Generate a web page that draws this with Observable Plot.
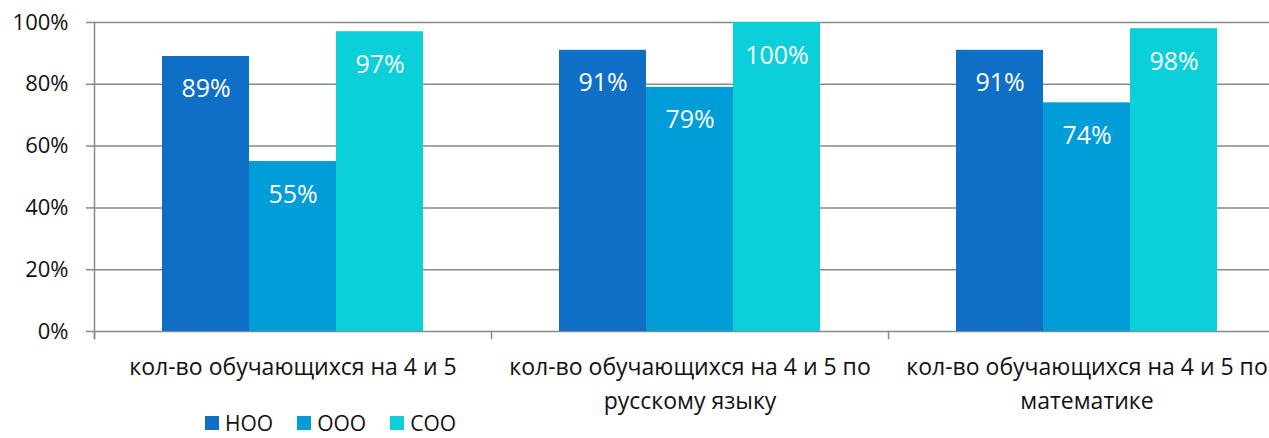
<!DOCTYPE html>
<html>
<head>
<meta charset="utf-8">
<script src="https://cdn.jsdelivr.net/npm/d3@7"></script>
<script src="https://cdn.jsdelivr.net/npm/@observablehq/plot@0.6"></script>
<style>
  html, body { margin: 0; padding: 0; overflow: hidden; background: #fff; width: 1269px; height: 438px; position: relative; }
  #chart svg.plot-main { max-width: none !important; display: block; }
  #legend { position: absolute; top: 410px; left: 205px; height: 26px; }
  #legend div { font-family: "Open Sans", sans-serif !important; font-size: 21px !important; color: #111 !important; line-height: 26px !important; min-height: 26px !important; margin: 0 !important; }
  #legend span { margin-right: 24px !important; }
  #legend span > svg { margin-right: 6px !important; }
</style>
</head>
<body>
<div id="chart"></div>
<div id="legend"></div>
<script>
// ---- data ----
const categories = [
  "кол-во обучающихся на 4 и 5",
  "кол-во обучающихся на 4 и 5 по\nрусскому языку",
  "кол-во обучающихся на 4 и 5 по\nматематике"
];
const series = ["НОО", "ООО", "СОО"];
const nooValues = [89, 91, 91];
const oooValues = [55, 79, 74];
const sooValues = [97, 100, 98];
const seriesColors = ["#0F6FC6", "#009DD9", "#0BD0D9"];
const yTicks = [0, 20, 40, 60, 80, 100];

const valuesBySeries = [nooValues, oooValues, sooValues];
const data = [];
categories.forEach((c, i) => {
  series.forEach((s, j) => data.push({cat: c, s, v: valuesBySeries[j][i]}));
});

const W = 1286, H = 410, MT = 22, MB = 79, ML = 93;
const innerH = H - MT - MB;
const gridColor = "#898989";

const chart = Plot.plot({
  width: W,
  height: H,
  marginTop: MT,
  marginBottom: MB,
  marginLeft: ML,
  marginRight: 0,
  className: "plot-main",
  style: "max-width:none;font-family:'Open Sans',sans-serif;font-size:22px;color:#111;overflow:visible;background:#fff;",
  fx: {domain: categories, padding: 0, label: null},
  x: {domain: series, paddingInner: 0, paddingOuter: 0.761, axis: null},
  y: {domain: [0, 100], axis: null, label: null},
  color: {domain: series, range: seriesColors},
  marks: [
    Plot.ruleY(yTicks, {stroke: gridColor, strokeWidth: 1.5}),
    Plot.barY(data, {fx: "cat", x: "s", y: "v", fill: "s"}),
    Plot.text(data, {fx: "cat", x: "s", y: "v", text: d => d.v + "%", fill: "white", fontSize: 25, dy: 33}),
    Plot.axisY({ticks: yTicks, tickFormat: d => d + "%", label: null, tickSize: 8, tickPadding: 18, stroke: gridColor, strokeWidth: 1.5, strokeOpacity: 1, fontSize: 22, fill: "#111"}),
    Plot.axisFx({anchor: "bottom", tickSize: 0, tickPadding: 20, fontSize: 23, lineHeight: 1.45, fill: "#111", label: null}),
    Plot.frame({anchor: "left", facetAnchor: "left", stroke: gridColor, strokeWidth: 1.5, insetBottom: -7}),
    Plot.frame({anchor: "left", stroke: gridColor, strokeWidth: 1.5, insetTop: innerH, insetBottom: -7})
  ]
});
document.getElementById("chart").appendChild(chart);

const legend = Plot.legend({
  color: {domain: series, range: seriesColors},
  legend: "swatches",
  swatchSize: 14,
  style: {fontSize: "21px", fontFamily: "Open Sans"}
});
document.getElementById("legend").appendChild(legend);
</script>
</body>
</html>
